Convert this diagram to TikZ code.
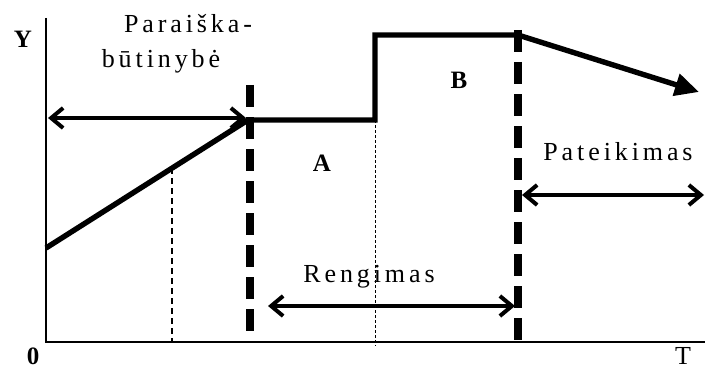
\documentclass[tikz,border=0pt]{standalone}
\usepackage{fontspec}
\setmainfont{Liberation Serif}
\usetikzlibrary{arrows.meta}

\begin{document}
\begin{tikzpicture}[
    x=0.5pt, y=-0.5pt,
    axis/.style={line width=0.7pt},
    curve/.style={line width=2.7pt, line join=miter},
    phase/.style={line width=4pt, dash pattern=on 11pt off 5pt},
    guide/.style={line width=1pt, dash pattern=on 3pt off 2pt},
    thinguide/.style={line width=0.4pt, dash pattern=on 1.5pt off 1pt},
    span/.style={{Straight Barb[length=6pt,width=10pt]}-{Straight Barb[length=6pt,width=10pt]}, line width=2pt},
    lbl/.style={font=\fontsize{13}{15}\selectfont\addfontfeature{LetterSpace=15}, anchor=base, inner sep=0pt},
    letter/.style={font=\fontsize{12.5}{15}\selectfont\bfseries, anchor=base, inner sep=0pt}
]
\useasboundingbox (0,0) rectangle (705,369);

% ========== AXES ==========
\coordinate (o) at (46,342);
\coordinate (ytop) at (46,18);
\coordinate (xend) at (705,342);
\draw[axis] (ytop) -- (o) -- (xend);

\node[letter] (ylab) at (23,48) {Y};
\node[letter] (zero) at (33,364) {0};
\node[lbl, font=\fontsize{13}{15}\selectfont] (tlab) at (683,364) {T};

% ========== CURVE ==========
\coordinate (c0) at (46,248);
\coordinate (c1) at (248,120);
\coordinate (c2) at (375,120);
\coordinate (c3) at (375,35);
\coordinate (c4) at (518,35);
\coordinate (c5) at (699,92);
\draw[curve] (c0) -- (c1) -- (c2) -- (c3) -- (c4);
\draw[curve, -{Triangle[length=12pt,width=11pt]}] (c4) -- (c5);

% ========== PHASE BORDERS ==========
\coordinate (p1top) at (250,85);
\coordinate (p1bot) at (250,336);
\coordinate (p2top) at (518,30);
\coordinate (p2bot) at (518,346);
\draw[phase] (p1top) -- (p1bot);
\draw[phase] (p2top) -- (p2bot);

\coordinate (g1top) at (172,168);
\coordinate (g1bot) at (172,342);
\draw[guide] (g1top) -- (g1bot);
\coordinate (g2bot) at (375,346);
\draw[thinguide] (c2) -- (g2bot);

% ========== SPANS ==========
\coordinate (s1l) at (48,118);
\coordinate (s1r) at (246,118);
\draw[span] (s1l) -- (s1r);

\coordinate (s2l) at (268,306);
\coordinate (s2r) at (515,306);
\draw[span] (s2l) -- (s2r);

\coordinate (s3l) at (522,195);
\coordinate (s3r) at (704,195);
\draw[span] (s3l) -- (s3r);

% ========== LABELS ==========
\node[lbl] (para1) at (188,33) {Paraiška-};
\node[lbl] (para2) at (161,68) {būtinybė};
\node[lbl] (reng) at (369,282) {Rengimas};
\node[lbl] (pateik) at (618,160) {Pateikimas};
\node[letter] (a) at (322,171) {A};
\node[letter] (b) at (459,89) {B};

\end{tikzpicture}
\end{document}
